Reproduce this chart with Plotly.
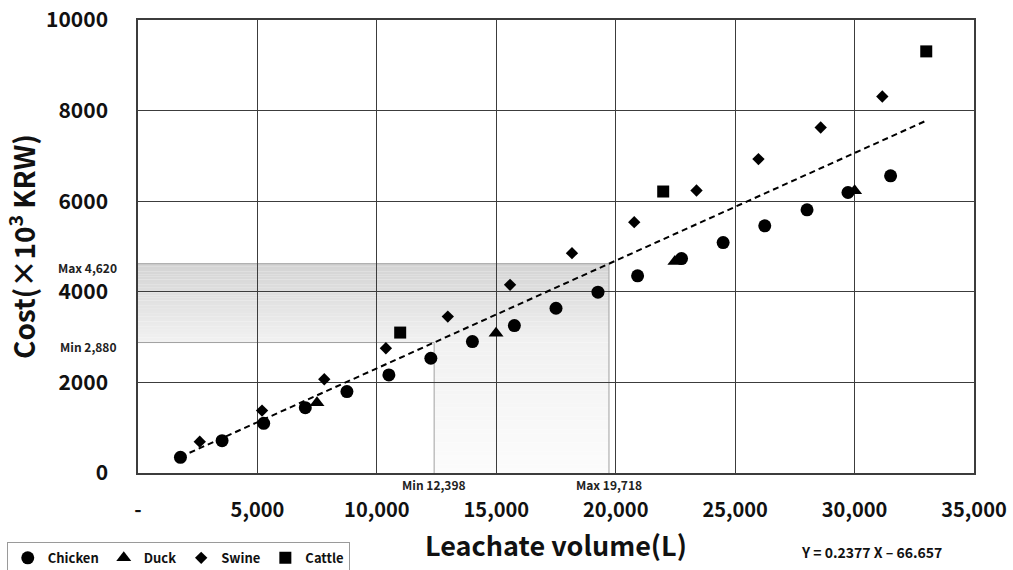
import plotly.graph_objects as go

# ---- data ----
chicken_x = [1777, 3520, 5262, 7004, 8747, 10503, 12260, 14000, 15757, 17500,
             19257, 20916, 22755, 24497, 26240, 28010, 29724, 31508]
chicken_y = [347, 714, 1097, 1443, 1797, 2165, 2533, 2901, 3255, 3637,
             3991, 4352, 4734, 5087, 5456, 5810, 6192, 6561]
duck_x = [7493, 14990, 22477, 30003]
duck_y = [1553, 3085, 4668, 6229]
swine_x = [2585, 5193, 7799, 10378, 12970, 15577, 18169, 20775, 23383, 25976, 28581, 31161]
swine_y = [692, 1377, 2069, 2754, 3453, 4153, 4853, 5537, 6236, 6929, 7628, 8312]
cattle_x = [10977, 21988, 33001]
cattle_y = [3100, 6214, 9307]

slope = 0.2377
intercept = -66.657

vol_min, vol_max = 12398, 19718
cost_min, cost_max = 2880, 4620

x_ticks = [0, 5000, 10000, 15000, 20000, 25000, 30000, 35000]
x_ticklabels = ["-", "5,000", "10,000", "15,000", "20,000", "25,000", "30,000", "35,000"]
y_ticks = [0, 2000, 4000, 6000, 8000, 10000]
y_ticklabels = ["0", "2000", "4000", "6000", "8000", "10000"]

FONT = "Noto Sans CJK KR"

fig = go.Figure()

# regression line
all_x = chicken_x + duck_x + swine_x + cattle_x
x0, x1 = min(all_x), max(all_x)
fig.add_trace(go.Scatter(x=[x0, x1], y=[slope * x0 + intercept, slope * x1 + intercept],
                         mode="lines", line=dict(color="black", width=2, dash="6px,4px"),
                         showlegend=False, hoverinfo="skip"))

series = [
    ("Chicken", chicken_x, chicken_y, "circle", 13),
    ("Duck", duck_x, duck_y, "triangle-up", 13),
    ("Swine", swine_x, swine_y, "diamond", 9.5),
    ("Cattle", cattle_x, cattle_y, "square", 12),
]
for name, xs, ys, sym, sz in series:
    fig.add_trace(go.Scatter(x=xs, y=ys, mode="markers", name=name,
                             marker=dict(symbol=sym, size=sz, color="black")))

# gradient shading via stripes (below gridlines)
shapes = []
def stripes(xa, xb, ya, yb, c_bottom, c_top, n=30):
    for i in range(n):
        t = (i + 0.5) / n
        c = round(c_bottom + (c_top - c_bottom) * t)
        y_lo = ya + (yb - ya) * i / n
        y_hi = ya + (yb - ya) * (i + 1.02) / n
        shapes.append(dict(type="rect", xref="x", yref="y", x0=xa, x1=xb,
                           y0=y_lo, y1=min(y_hi, yb), line=dict(width=0),
                           fillcolor=f"rgb({c},{c},{c})", layer="below"))

stripes(0, vol_max, cost_min, cost_max, 241, 212)
stripes(vol_min, vol_max, 0, cost_min, 252, 241)

lc = "#a0a0a0"
for (xa, ya, xb, yb) in [(0, cost_max, vol_max, cost_max),
                         (0, cost_min, vol_min, cost_min),
                         (vol_min, 0, vol_min, cost_min),
                         (vol_max, 0, vol_max, cost_max)]:
    shapes.append(dict(type="line", xref="x", yref="y", x0=xa, y0=ya, x1=xb, y1=yb,
                       line=dict(color=lc, width=1), layer="below"))

small = dict(family=FONT, size=12, color="#222", weight=600)
annotations = [
    dict(text="Max 4,620", xref="paper", x=0, xanchor="right", xshift=-19,
         yref="y", y=cost_max, yanchor="middle", yshift=-4, showarrow=False, font=small),
    dict(text="Min 2,880", xref="paper", x=0, xanchor="right", xshift=-19,
         yref="y", y=cost_min, yanchor="middle", yshift=-4, showarrow=False, font=small),
    dict(text="Min 12,398", xref="x", x=vol_min, xanchor="center",
         yref="paper", y=0, yanchor="top", yshift=-1, showarrow=False, font=small),
    dict(text="Max 19,718", xref="x", x=vol_max, xanchor="center",
         yref="paper", y=0, yanchor="top", yshift=-1, showarrow=False, font=small),
    dict(text=f"Y = {slope} X \u2013 {abs(intercept)}", xref="paper", x=0.877, xanchor="center",
         yref="paper", y=-0.174, yanchor="middle", showarrow=False,
         font=dict(family=FONT, size=14, color="#111", weight=700)),
]

grid = "#3c3c3c"
fig.update_layout(
    width=1013, height=570, autosize=False,
    margin=dict(l=138, r=39, t=20, b=97, autoexpand=False),
    paper_bgcolor="white", plot_bgcolor="white",
    font=dict(family=FONT, color="#111"),
    shapes=shapes, annotations=annotations,
    showlegend=True,
    legend=dict(orientation="h", x=-0.157, xanchor="left", y=-0.152, yanchor="top",
                bordercolor="#9a9a9a", borderwidth=1, bgcolor="white",
                font=dict(family=FONT, size=13, color="#111", weight=700),
                itemwidth=30, tracegroupgap=0),
    xaxis=dict(range=[0, 35000], tickvals=x_ticks, ticktext=x_ticklabels,
               showgrid=True, gridcolor=grid, gridwidth=1.3,
               showline=True, linecolor=grid, linewidth=1.5, mirror=True,
               zeroline=False, ticks="", ticklabelstandoff=18, automargin=False,
               tickfont=dict(family=FONT, size=20, color="#111", weight=700),
               title=dict(text="Leachate volume(L)", standoff=15,
                          font=dict(family=FONT, size=27, color="#111", weight=700))),
    yaxis=dict(range=[0, 10000], tickvals=y_ticks, ticktext=y_ticklabels,
               showgrid=True, gridcolor=grid, gridwidth=1.3,
               showline=True, linecolor=grid, linewidth=1.5, mirror=True,
               zeroline=False, ticks="", ticklabelstandoff=24, automargin=False,
               tickfont=dict(family=FONT, size=21, color="#111", weight=700),
               title=dict(text="Cost(×10<sup>3</sup> KRW)", standoff=20,
                          font=dict(family=FONT, size=28, color="#111", weight=700))),
)

fig.write_html("out.html")
